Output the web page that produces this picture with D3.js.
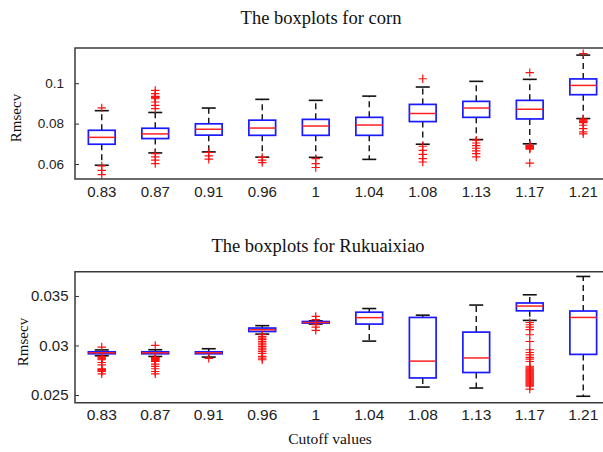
<!DOCTYPE html>
<html>
<head>
<meta charset="utf-8">
<script src="https://cdn.jsdelivr.net/npm/d3@7"></script>
<style>
  body { margin: 0; background: #fff; }
  svg { display: block; }
</style>
</head>
<body>
<svg id="chart" width="603" height="452"></svg>
<script>
// Cutoff values (shared category axis)
const cutoffs = ["0.83", "0.87", "0.91", "0.96", "1", "1.04", "1.08", "1.13", "1.17", "1.21"];

// Corn: whisker ends, quartiles, medians and outliers
const cornLower  = [0.0594, 0.0655, 0.0660, 0.0634, 0.0633, 0.0623, 0.0698, 0.0721, 0.0700, 0.0825];
const cornQ1     = [0.0698, 0.0726, 0.0743, 0.0742, 0.0742, 0.0742, 0.0810, 0.0831, 0.0823, 0.0943];
const cornMedian = [0.0732, 0.0749, 0.0772, 0.0778, 0.0788, 0.0793, 0.0850, 0.0877, 0.0871, 0.0989];
const cornQ3     = [0.0767, 0.0777, 0.0799, 0.0817, 0.0821, 0.0831, 0.0895, 0.0910, 0.0915, 0.1021];
const cornUpper  = [0.0864, 0.0855, 0.0877, 0.0920, 0.0915, 0.0936, 0.0981, 0.1009, 0.1019, 0.1139];
const cornOutliers = [
  [0.0878, 0.0591, 0.0569, 0.0548],
  [0.0964, 0.0948, 0.0935, 0.0933, 0.0931, 0.0929, 0.0923, 0.0907, 0.0890, 0.0874, 0.0652, 0.0635, 0.0619, 0.0602],
  [0.0657, 0.0640, 0.0624],
  [0.0633, 0.0619, 0.0607],
  [0.0627, 0.0602, 0.0583],
  [],
  [0.1022, 0.0688, 0.0668, 0.0648, 0.0627, 0.0610],
  [0.0718, 0.0704, 0.0691, 0.0678, 0.0665, 0.0652, 0.0635],
  [0.1052, 0.0693, 0.0690, 0.0687, 0.0684, 0.0680, 0.0677, 0.0674, 0.0605],
  [0.1146, 0.0822, 0.0818, 0.0814, 0.0810, 0.0805, 0.0792, 0.0775, 0.0759, 0.0749]
];
const cornTicks = [0.06, 0.08, 0.1];

// Rukuaixiao: whisker ends, quartiles, medians and outliers
const rukLower  = [0.02896, 0.02889, 0.02883, 0.03115, 0.03216, 0.03044, 0.02580, 0.02570, 0.03253, 0.02487];
const rukQ1     = [0.02916, 0.02916, 0.02916, 0.03141, 0.03226, 0.03216, 0.02672, 0.02727, 0.03350, 0.02910];
const rukMedian = [0.02926, 0.02926, 0.02926, 0.03159, 0.03232, 0.03281, 0.02842, 0.02874, 0.03398, 0.03283];
const rukQ3     = [0.02936, 0.02936, 0.02936, 0.03176, 0.03242, 0.03336, 0.03283, 0.03135, 0.03429, 0.03348];
const rukUpper  = [0.02955, 0.02957, 0.02967, 0.03200, 0.03249, 0.03373, 0.03306, 0.03408, 0.03512, 0.03697];
const rukOutliers = [
  [0.02984, 0.02889, 0.02881, 0.02873, 0.02865, 0.02856, 0.02828, 0.02805, 0.02765, 0.02758, 0.02751, 0.02744, 0.02737, 0.02714],
  [0.03000, 0.02879, 0.02874, 0.02869, 0.02864, 0.02859, 0.02853, 0.02848, 0.02843, 0.02838, 0.02812, 0.02788, 0.02765, 0.02737, 0.02714],
  [0.02870],
  [0.03108, 0.03090, 0.03075, 0.03058, 0.03040, 0.03024, 0.03007, 0.02990, 0.02974, 0.02957, 0.02940, 0.02920, 0.02889, 0.02872, 0.02856],
  [0.03293, 0.03262, 0.03209, 0.03186, 0.03152],
  [],
  [],
  [],
  [0.03232, 0.03209, 0.03186, 0.03159, 0.03108, 0.03040, 0.02957, 0.02929, 0.02906, 0.02879, 0.02862, 0.02838,
   0.02790, 0.02780, 0.02770, 0.02760, 0.02750, 0.02740, 0.02730, 0.02720, 0.02710, 0.02700, 0.02690,
   0.02680, 0.02670, 0.02660, 0.02650, 0.02640, 0.02630, 0.02620, 0.02610, 0.02600, 0.02590, 0.02560],
  []
];
const rukTicks = [0.025, 0.03, 0.035];

const svg = d3.select("#chart");
svg.append("rect").attr("width", 603).attr("height", 452).attr("fill", "#fff");

const sansFont = "'Liberation Sans', Arial, Helvetica, sans-serif";
const serifFont = "'Liberation Serif', 'Times New Roman', Times, serif";

// Category positions: boxes sit at integer slots, axis spans 0.5 .. 10.5
const x = d3.scaleBand().domain(cutoffs).range([75, 610]).padding(0);
const boxHalf = x.bandwidth() * 0.25;
const capHalf = 7;
const plusHalf = 4.2;

function drawPanel(cfg) {
  const y = d3.scaleLinear().domain(cfg.domain).range([cfg.bottom, cfg.top]);
  const g = svg.append("g");

  const rows = cutoffs.map((c, i) => ({
    c, lo: cfg.lower[i], q1: cfg.q1[i], med: cfg.median[i], q3: cfg.q3[i], hi: cfg.upper[i], out: cfg.outliers[i]
  }));
  const cx = d => x(d.c) + x.bandwidth() / 2;

  const box = g.selectAll("g.box").data(rows).join("g").attr("class", "box");

  // dashed whiskers
  box.append("line")
    .attr("x1", cx).attr("x2", cx)
    .attr("y1", d => y(d.q3)).attr("y2", d => y(d.hi))
    .attr("stroke", "#111").attr("stroke-width", 1.4).attr("stroke-dasharray", "6,4");
  box.append("line")
    .attr("x1", cx).attr("x2", cx)
    .attr("y1", d => y(d.q1)).attr("y2", d => y(d.lo))
    .attr("stroke", "#111").attr("stroke-width", 1.4).attr("stroke-dasharray", "6,4");

  // whisker caps
  ["hi", "lo"].forEach(k => {
    box.append("line")
      .attr("x1", d => cx(d) - capHalf).attr("x2", d => cx(d) + capHalf)
      .attr("y1", d => y(d[k])).attr("y2", d => y(d[k]))
      .attr("stroke", "#111").attr("stroke-width", 1.6);
  });

  // box
  box.append("rect")
    .attr("x", d => cx(d) - boxHalf)
    .attr("width", boxHalf * 2)
    .attr("y", d => y(d.q3))
    .attr("height", d => Math.max(0, y(d.q1) - y(d.q3)))
    .attr("fill", "none").attr("stroke", "#1a1aff").attr("stroke-width", 1.7);

  // median
  box.append("line")
    .attr("x1", d => cx(d) - boxHalf).attr("x2", d => cx(d) + boxHalf)
    .attr("y1", d => y(d.med)).attr("y2", d => y(d.med))
    .attr("stroke", "#ff2020").attr("stroke-width", 1.5);

  // outliers as red plus signs
  box.selectAll("path.out")
    .data(d => d.out.map(v => ({ c: d.c, v })))
    .join("path").attr("class", "out")
    .attr("d", d => {
      const px = x(d.c) + x.bandwidth() / 2, py = y(d.v);
      return `M${px - plusHalf},${py}H${px + plusHalf}M${px},${py - plusHalf}V${py + plusHalf}`;
    })
    .attr("stroke", "#ff1010").attr("stroke-width", 1.2).attr("fill", "none");

  // frame: top, left and bottom edges (right edge lies past the page)
  g.append("path")
    .attr("d", `M610,${cfg.top}H75V${cfg.bottom}H610`)
    .attr("fill", "none").attr("stroke", "#3a3a3a").attr("stroke-width", 1.5);

  // y axis with inward ticks
  const ya = g.append("g").attr("transform", "translate(75,0)")
    .call(d3.axisLeft(y).tickValues(cfg.ticks).tickFormat(d => String(d)).tickSizeInner(-4).tickSizeOuter(0).tickPadding(cfg.yPad));
  ya.select(".domain").remove();
  ya.selectAll(".tick line").attr("stroke", "#333");
  ya.selectAll(".tick text").attr("font-family", sansFont).attr("font-size", cfg.yFont).attr("fill", "#222");

  // x axis labels
  const xa = g.append("g").attr("transform", `translate(0,${cfg.bottom})`)
    .call(d3.axisBottom(x).tickSize(0).tickPadding(cfg.xPad));
  xa.select(".domain").remove();
  xa.selectAll(".tick text").attr("font-family", sansFont).attr("font-size", cfg.xFont).attr("fill", "#222");

  // panel title
  svg.append("text").attr("x", cfg.titleX).attr("y", cfg.titleY)
    .attr("text-anchor", "middle").attr("font-family", serifFont).attr("font-size", 18.5).attr("fill", "#111")
    .text(cfg.title);

  // y label
  svg.append("text")
    .attr("transform", `translate(${cfg.ylabX},${cfg.ylabY}) rotate(-90)`)
    .attr("text-anchor", "middle").attr("font-family", serifFont).attr("font-size", 15).attr("fill", "#111")
    .text("Rmsecv");
}

drawPanel({
  top: 48, bottom: 179, domain: [0.0526, 0.1174], ticks: cornTicks,
  xPad: 7, xFont: 15, yPad: 11, yFont: 13.5,
  lower: cornLower, q1: cornQ1, median: cornMedian, q3: cornQ3, upper: cornUpper, outliers: cornOutliers,
  title: "The boxplots for corn", titleX: 321, titleY: 24, ylabX: 20.5, ylabY: 118
});

drawPanel({
  top: 271.7, bottom: 402.7, domain: [0.02422, 0.03745], ticks: rukTicks,
  xPad: 6, xFont: 15.5, yPad: 6.5, yFont: 15,
  lower: rukLower, q1: rukQ1, median: rukMedian, q3: rukQ3, upper: rukUpper, outliers: rukOutliers,
  title: "The boxplots for Rukuaixiao", titleX: 318, titleY: 251.5, ylabX: 28, ylabY: 342
});

// shared x label
svg.append("text").attr("x", 330).attr("y", 443.5)
  .attr("text-anchor", "middle").attr("font-family", serifFont).attr("font-size", 15.5).attr("fill", "#111")
  .text("Cutoff values");
</script>
</body>
</html>
